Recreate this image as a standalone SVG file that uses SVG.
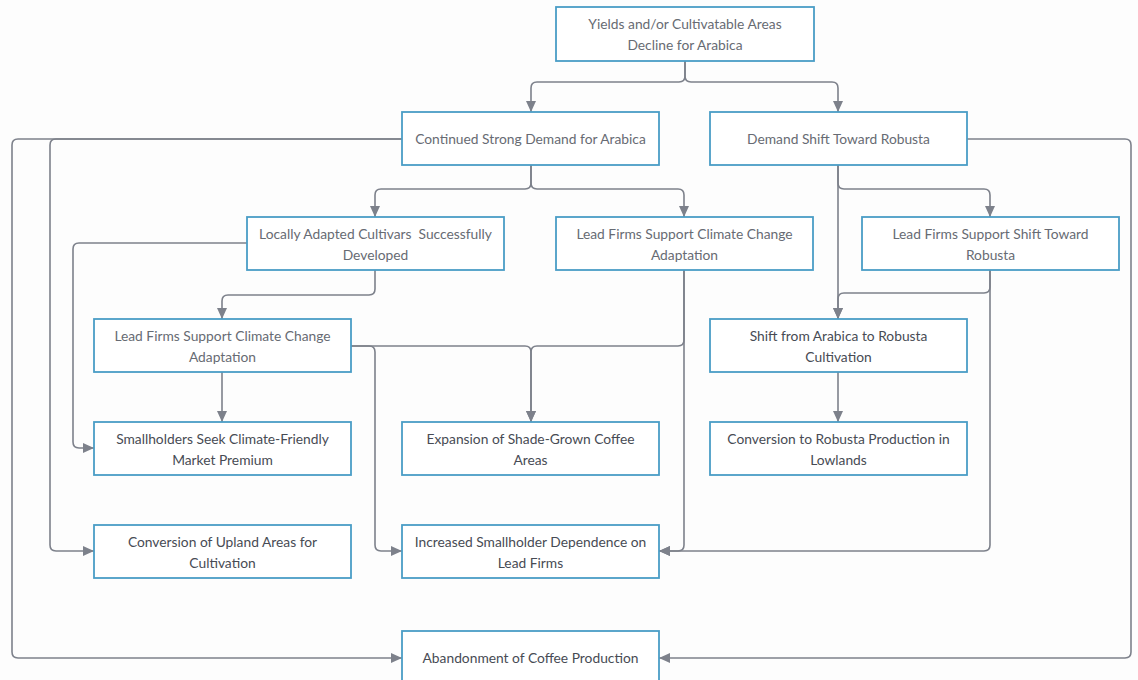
<svg xmlns="http://www.w3.org/2000/svg" width="1138" height="680" viewBox="0 0 1138 680">
<defs>
<style>
.box{fill:#ffffff;stroke:#4a9dc6;stroke-width:1.8}
.t{font-family:Lato,"Open Sans","Liberation Sans",sans-serif;font-size:13.8px;fill:#676b73;text-anchor:middle}
.d{fill:#474b54}
.c{fill:none;stroke:#7d818b;stroke-width:1.6}
</style>
<marker id="ah" markerUnits="userSpaceOnUse" markerWidth="12" markerHeight="12" viewBox="0 0 12 12" refX="11" refY="6" orient="auto">
<path d="M0,1 L11,6 L0,11 Z" fill="#7d818b"/>
</marker>
</defs>
<rect width="1138" height="680" fill="#fdfdfd"/>
<g id="connectors">
<path class="c" marker-end="url(#ah)" d="M685 61 V76 Q685 82 679 82 H537 Q531 82 531 88 V112"/>
<path class="c" marker-end="url(#ah)" d="M685 61 V76 Q685 82 691 82 H832 Q838 82 838 88 V112"/>
<path class="c" marker-end="url(#ah)" d="M402 139 H56 Q50 139 50 145 V545 Q50 551 56 551 H94"/>
<path class="c" marker-end="url(#ah)" d="M402 139 H18 Q12 139 12 145 V652 Q12 658 18 658 H402"/>
<path class="c" marker-end="url(#ah)" d="M531 165 V183 Q531 189 525 189 H381 Q375 189 375 195 V217"/>
<path class="c" marker-end="url(#ah)" d="M531 165 V183 Q531 189 537 189 H678 Q684 189 684 195 V217"/>
<path class="c" marker-end="url(#ah)" d="M838 165 V183 Q838 189 844 189 H984 Q990 189 990 195 V217"/>
<path class="c" marker-end="url(#ah)" d="M838 165 V319"/>
<path class="c" marker-end="url(#ah)" d="M967 139 H1125 Q1131 139 1131 145 V652 Q1131 658 1125 658 H659"/>
<path class="c" marker-end="url(#ah)" d="M247 243 H79 Q73 243 73 249 V442 Q73 448 79 448 H94"/>
<path class="c" marker-end="url(#ah)" d="M375 270 V289 Q375 295 369 295 H228 Q222 295 222 301 V319"/>
<path class="c" marker-end="url(#ah)" d="M222 372 V422"/>
<path class="c" marker-end="url(#ah)" d="M351 346 H369 Q375 346 375 352 V545 Q375 551 381 551 H402"/>
<path class="c" marker-end="url(#ah)" d="M351 346 H525 Q531 346 531 352 V422"/>
<path class="c" marker-end="url(#ah)" d="M684 270 V340 Q684 346 678 346 H537 Q531 346 531 352 V422"/>
<path class="c" marker-end="url(#ah)" d="M684 270 V545 Q684 551 678 551 H659"/>
<path class="c" marker-end="url(#ah)" d="M990 270 V287 Q990 293 984 293 H844 Q838 293 838 299 V319"/>
<path class="c" marker-end="url(#ah)" d="M990 270 V545 Q990 551 984 551 H659"/>
<path class="c" marker-end="url(#ah)" d="M838 372 V422"/>
</g>
<g id="n1"><rect class="box" x="556" y="7" width="258" height="54"/><text class="t" x="685" y="29">Yields and/or Cultivatable Areas</text><text class="t" x="685" y="50">Decline for Arabica</text></g>
<g id="n2"><rect class="box" x="402" y="112" width="257" height="53"/><text class="t" x="530.5" y="143.5">Continued Strong Demand for Arabica</text></g>
<g id="n3"><rect class="box" x="710" y="112" width="257" height="53"/><text class="t" x="838.5" y="143.5">Demand Shift Toward Robusta</text></g>
<g id="n4"><rect class="box" x="247" y="217" width="257" height="53"/><text class="t" x="375.5" y="238.5" xml:space="preserve">Locally Adapted Cultivars  Successfully</text><text class="t" x="375.5" y="259.5">Developed</text></g>
<g id="n5"><rect class="box" x="556" y="217" width="257" height="53"/><text class="t" x="684.5" y="238.5">Lead Firms Support Climate Change</text><text class="t" x="684.5" y="259.5">Adaptation</text></g>
<g id="n6"><rect class="box" x="862" y="217" width="257" height="53"/><text class="t" x="990.5" y="238.5">Lead Firms Support Shift Toward</text><text class="t" x="990.5" y="259.5">Robusta</text></g>
<g id="n7"><rect class="box" x="94" y="319" width="257" height="53"/><text class="t" x="222.5" y="340.5">Lead Firms Support Climate Change</text><text class="t" x="222.5" y="361.5">Adaptation</text></g>
<g id="n8"><rect class="box" x="710" y="319" width="257" height="53"/><text class="t d" x="838.5" y="340.5">Shift from Arabica to Robusta</text><text class="t d" x="838.5" y="361.5">Cultivation</text></g>
<g id="n9"><rect class="box" x="94" y="422" width="257" height="53"/><text class="t d" x="222.5" y="443.5">Smallholders Seek Climate-Friendly</text><text class="t d" x="222.5" y="464.5">Market Premium</text></g>
<g id="n10"><rect class="box" x="402" y="422" width="257" height="53"/><text class="t d" x="530.5" y="443.5">Expansion of Shade-Grown Coffee</text><text class="t d" x="530.5" y="464.5">Areas</text></g>
<g id="n11"><rect class="box" x="710" y="422" width="257" height="53"/><text class="t d" x="838.5" y="443.5">Conversion to Robusta Production in</text><text class="t d" x="838.5" y="464.5">Lowlands</text></g>
<g id="n12"><rect class="box" x="94" y="525" width="257" height="53"/><text class="t d" x="222.5" y="546.5">Conversion of Upland Areas for</text><text class="t d" x="222.5" y="567.5">Cultivation</text></g>
<g id="n13"><rect class="box" x="402" y="525" width="257" height="53"/><text class="t d" x="530.5" y="546.5">Increased Smallholder Dependence on</text><text class="t d" x="530.5" y="567.5">Lead Firms</text></g>
<g id="n14"><rect class="box" x="402" y="631" width="257" height="55"/><text class="t d" x="530.5" y="663">Abandonment of Coffee Production</text></g>
</svg>
